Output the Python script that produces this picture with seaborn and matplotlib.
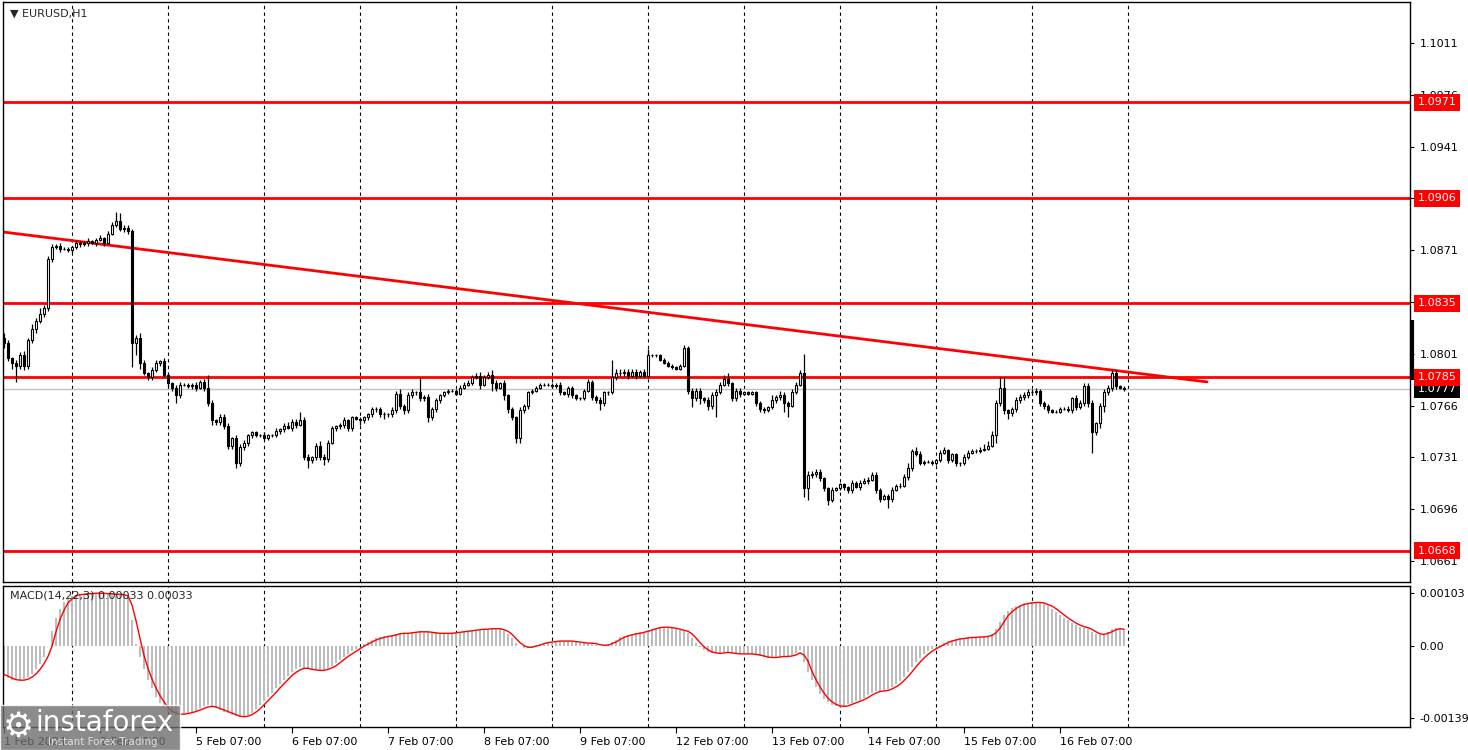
import matplotlib
matplotlib.use("Agg")
import matplotlib.pyplot as plt
import matplotlib.transforms as mtransforms
import numpy as np
import pandas as pd
import seaborn as sns

# ── Data ─────────────────────────────────────────────────────────────
date_labels = ["1 Feb 2024", "2 Feb 07:00", "5 Feb 07:00", "6 Feb 07:00",
               "7 Feb 07:00", "8 Feb 07:00", "9 Feb 07:00", "12 Feb 07:00",
               "13 Feb 07:00", "14 Feb 07:00", "15 Feb 07:00", "16 Feb 07:00"]

# EURUSD H1 closes, 1 Feb 07:00 .. 16 Feb 23:00, one row per trading day
close = [
    1.0808, 1.0798, 1.0795, 1.0793, 1.0800, 1.0793, 1.0810, 1.0818, 1.0823, 1.0828, 1.0832, 1.0865, 1.0873, 1.0874, 1.0872, 1.0872, 1.0871,
    1.0873, 1.0876, 1.0875, 1.0876, 1.0877, 1.0876, 1.0878, 1.0879, 1.0876, 1.0882, 1.0888, 1.0891, 1.0885, 1.0886, 1.0884, 1.0808, 1.0812, 1.0795, 1.0788, 1.0785, 1.0790, 1.0795, 1.0796, 1.0787,
    1.0781, 1.0778, 1.0773, 1.0780, 1.0780, 1.0779, 1.0780, 1.0778, 1.0782, 1.0778, 1.0768, 1.0756, 1.0755, 1.0758, 1.0752, 1.0739, 1.0744, 1.0727, 1.0738, 1.0741, 1.0746, 1.0748, 1.0746, 1.0746,
    1.0744, 1.0746, 1.0746, 1.0749, 1.0750, 1.0752, 1.0751, 1.0755, 1.0753, 1.0756, 1.0731, 1.0729, 1.0731, 1.0739, 1.0731, 1.0730, 1.0741, 1.0751, 1.0752, 1.0753, 1.0756, 1.0751, 1.0758, 1.0757,
    1.0756, 1.0758, 1.0760, 1.0764, 1.0764, 1.0760, 1.0760, 1.0760, 1.0763, 1.0774, 1.0766, 1.0763, 1.0773, 1.0775, 1.0775, 1.0771, 1.0772, 1.0758, 1.0764, 1.0770, 1.0773, 1.0775, 1.0776, 1.0776,
    1.0774, 1.0778, 1.0780, 1.0781, 1.0785, 1.0786, 1.0780, 1.0785, 1.0787, 1.0781, 1.0778, 1.0781, 1.0773, 1.0764, 1.0758, 1.0744, 1.0763, 1.0766, 1.0775, 1.0776, 1.0778, 1.0780, 1.0780, 1.0780,
    1.0779, 1.0780, 1.0775, 1.0774, 1.0778, 1.0773, 1.0771, 1.0771, 1.0776, 1.0782, 1.0772, 1.0770, 1.0768, 1.0775, 1.0775, 1.0785, 1.0788, 1.0788, 1.0789, 1.0786, 1.0789, 1.0786, 1.0789, 1.0786,
    1.0800, 1.0800, 1.0800, 1.0797, 1.0795, 1.0793, 1.0792, 1.0791, 1.0793, 1.0805, 1.0776, 1.0771, 1.0776, 1.0771, 1.0770, 1.0766, 1.0773, 1.0775, 1.0780, 1.0784, 1.0781, 1.0771, 1.0776, 1.0774,
    1.0775, 1.0774, 1.0775, 1.0768, 1.0764, 1.0763, 1.0765, 1.0770, 1.0772, 1.0773, 1.0768, 1.0766, 1.0775, 1.0780, 1.0788, 1.0710, 1.0719, 1.0720, 1.0721, 1.0717, 1.0710, 1.0702, 1.0709, 1.0710,
    1.0713, 1.0711, 1.0709, 1.0714, 1.0711, 1.0714, 1.0715, 1.0716, 1.0719, 1.0709, 1.0703, 1.0705, 1.0703, 1.0709, 1.0712, 1.0712, 1.0718, 1.0724, 1.0735, 1.0733, 1.0727, 1.0728, 1.0728, 1.0727,
    1.0729, 1.0734, 1.0736, 1.0729, 1.0733, 1.0727, 1.0727, 1.0731, 1.0734, 1.0735, 1.0735, 1.0736, 1.0737, 1.0739, 1.0746, 1.0768, 1.0778, 1.0763, 1.0761, 1.0764, 1.0770, 1.0772, 1.0773, 1.0775,
    1.0775, 1.0776, 1.0768, 1.0766, 1.0763, 1.0762, 1.0762, 1.0764, 1.0764, 1.0763, 1.0771, 1.0765, 1.0768, 1.0779, 1.0768, 1.0748, 1.0754, 1.0766, 1.0775, 1.0778, 1.0788, 1.0779, 1.0778, 1.0777,
]
first_open = 1.0812

# wick lengths beyond the body, in pips
upper_wick = [
    3, 2, 1, 2, 2, 3, 2, 3, 2, 4, 2, 2, 2, 1, 2, 1, 1,
    1, 2, 1, 1, 2, 1, 1, 2, 1, 2, 2, 6, 5, 2, 2, 1, 2, 3, 2, 1, 2, 2, 1, 2,
    2, 1, 2, 2, 1, 1, 1, 2, 1, 2, 9, 2, 1, 2, 2, 2, 1, 2, 2, 2, 1, 1, 1, 1,
    2, 1, 1, 2, 1, 2, 3, 2, 2, 6, 2, 2, 1, 2, 3, 2, 2, 1, 1, 1, 2, 1, 1, 1,
    1, 1, 1, 1, 1, 1, 2, 1, 2, 2, 3, 1, 2, 2, 1, 10, 1, 2, 1, 1, 1, 1, 1, 1,
    1, 2, 2, 2, 2, 2, 3, 2, 2, 3, 2, 1, 2, 1, 1, 1, 2, 1, 1, 1, 1, 1, 1, 1,
    1, 1, 2, 1, 1, 1, 1, 1, 1, 2, 1, 1, 2, 1, 1, 12, 3, 3, 2, 2, 2, 2, 1, 2,
    4, 1, 1, 1, 1, 1, 1, 1, 1, 2, 1, 2, 2, 2, 1, 2, 2, 2, 2, 3, 4, 1, 2, 2,
    1, 1, 1, 1, 1, 1, 1, 3, 1, 3, 2, 1, 2, 2, 2, 13, 3, 2, 2, 2, 1, 1, 2, 1,
    1, 1, 1, 2, 1, 2, 2, 2, 2, 2, 1, 1, 1, 2, 1, 2, 2, 3, 2, 3, 2, 1, 1, 1,
    1, 2, 2, 1, 1, 1, 1, 2, 2, 2, 2, 2, 3, 3, 3, 2, 7, 7, 1, 1, 2, 2, 2, 2,
    2, 2, 1, 1, 1, 1, 1, 1, 1, 2, 1, 2, 2, 2, 2, 2, 1, 2, 2, 2, 2, 2, 1, 1,
]
lower_wick = [
    3, 2, 4, 11, 2, 3, 2, 2, 3, 1, 2, 2, 2, 1, 2, 1, 1,
    2, 1, 2, 1, 2, 1, 2, 1, 2, 1, 1, 1, 1, 2, 2, 16, 8, 4, 1, 2, 2, 1, 2, 2,
    2, 2, 5, 2, 1, 1, 2, 2, 1, 2, 2, 3, 2, 2, 2, 2, 2, 3, 2, 2, 2, 2, 1, 1,
    1, 1, 1, 1, 2, 2, 1, 2, 2, 1, 2, 5, 2, 2, 2, 4, 2, 1, 2, 2, 2, 2, 2, 1,
    3, 2, 2, 2, 2, 2, 3, 2, 2, 2, 2, 3, 2, 2, 2, 2, 2, 3, 2, 2, 2, 1, 1, 1,
    1, 1, 1, 1, 1, 1, 3, 1, 1, 5, 2, 1, 3, 3, 2, 3, 3, 2, 2, 1, 1, 1, 1, 1,
    1, 1, 2, 1, 2, 2, 1, 1, 1, 1, 2, 2, 5, 2, 2, 1, 2, 2, 2, 2, 1, 2, 1, 1,
    1, 1, 1, 1, 1, 1, 1, 1, 1, 1, 2, 6, 2, 4, 2, 3, 2, 15, 1, 1, 2, 2, 2, 2,
    1, 1, 1, 2, 2, 2, 1, 1, 2, 2, 6, 8, 1, 1, 1, 6, 8, 2, 2, 2, 2, 3, 1, 1,
    1, 2, 2, 2, 1, 2, 1, 2, 1, 2, 2, 1, 6, 2, 1, 2, 1, 2, 2, 1, 1, 1, 1, 1,
    1, 1, 1, 2, 1, 2, 2, 1, 1, 1, 1, 1, 1, 1, 1, 5, 2, 3, 4, 2, 2, 2, 2, 2,
    1, 2, 2, 2, 2, 1, 1, 1, 1, 1, 2, 2, 1, 2, 3, 14, 2, 3, 4, 2, 2, 2, 1, 1,
]

# MACD(14,22,3) histogram and signal, in units of 1e-5
macd_main = [
    -58, -62, -65, -66, -66, -64, -60, -54, -45, -34, -20, 0, 30, 55, 72, 85, 93,
    98, 100, 101, 102, 102, 103, 103, 103, 102, 102, 101, 101, 100, 98, 95, 50, 5, -20, -45, -65, -82, -98, -110, -120,
    -127, -131, -133, -133, -131, -129, -127, -125, -121, -117, -115, -117, -120, -124, -127, -130, -133, -136, -138, -137, -134, -129, -122, -115,
    -107, -99, -91, -82, -73, -65, -57, -50, -45, -41, -42, -45, -47, -47, -47, -46, -43, -38, -32, -26, -20, -15, -10, -5,
    0, 4, 8, 12, 15, 17, 19, 20, 22, 24, 25, 25, 26, 27, 28, 29, 29, 27, 26, 25, 25, 25, 25, 26,
    27, 28, 29, 30, 31, 32, 33, 33, 34, 34, 34, 33, 30, 24, 16, 6, 0, -3, -3, -1, 2, 5, 7, 8,
    9, 10, 10, 10, 10, 9, 8, 7, 6, 6, 5, 3, 1, 2, 4, 8, 13, 17, 20, 22, 24, 25, 27, 28,
    31, 34, 36, 37, 37, 36, 35, 33, 31, 30, 25, 16, 7, -2, -8, -12, -14, -14, -13, -12, -12, -14, -15, -15,
    -15, -15, -15, -17, -19, -21, -22, -22, -21, -20, -20, -20, -18, -14, -8, -30, -50, -66, -80, -92, -102, -109, -114, -117,
    -118, -116, -113, -110, -107, -104, -100, -95, -90, -88, -87, -86, -84, -80, -74, -67, -59, -50, -40, -31, -23, -16, -10, -5,
    -1, 3, 7, 10, 12, 14, 15, 16, 17, 17, 18, 18, 19, 20, 24, 34, 48, 60, 68, 74, 78, 81, 83, 84,
    85, 85, 84, 82, 78, 73, 67, 61, 55, 50, 45, 41, 38, 36, 34, 28, 23, 22, 24, 28, 33, 35, 34, 33,
]
macd_signal = [
    -55, -58, -62, -65, -66, -66, -64, -60, -54, -45, -34, -20, 0, 28, 52, 70, 84,
    92, 98, 100, 101, 102, 102, 103, 103, 103, 102, 102, 101, 101, 100, 98, 80, 50, 15, -18, -43, -64, -81, -96, -108,
    -119, -126, -130, -132, -132, -131, -129, -127, -124, -121, -118, -117, -118, -121, -124, -127, -130, -133, -136, -137, -136, -133, -128, -122,
    -114, -106, -98, -90, -81, -73, -65, -57, -51, -46, -43, -43, -45, -46, -47, -47, -45, -42, -38, -32, -26, -20, -15, -10,
    -5, 0, 4, 8, 12, 15, 17, 19, 20, 22, 24, 25, 25, 26, 27, 28, 28, 28, 27, 26, 25, 25, 25, 25,
    26, 27, 28, 29, 30, 31, 32, 33, 33, 34, 34, 34, 32, 29, 23, 15, 7, 1, -2, -2, 0, 2, 5, 7,
    8, 9, 10, 10, 10, 10, 9, 8, 7, 6, 6, 5, 3, 2, 2, 5, 8, 13, 17, 20, 22, 24, 25, 27,
    29, 31, 34, 36, 37, 37, 36, 35, 33, 31, 29, 24, 16, 7, -1, -7, -11, -13, -14, -13, -12, -13, -14, -15,
    -15, -15, -15, -16, -17, -19, -21, -22, -22, -21, -20, -20, -19, -17, -13, -17, -29, -49, -65, -79, -91, -101, -108, -113,
    -116, -117, -116, -113, -110, -107, -104, -100, -95, -91, -88, -87, -86, -83, -79, -74, -67, -59, -50, -40, -31, -23, -16, -10,
    -5, -1, 3, 7, 10, 12, 14, 15, 16, 17, 17, 18, 18, 19, 21, 26, 35, 47, 59, 67, 73, 78, 81, 83,
    84, 85, 85, 84, 81, 78, 73, 67, 61, 55, 50, 45, 41, 38, 36, 33, 28, 24, 23, 25, 28, 32, 34, 33,
]

levels = [1.0971, 1.0906, 1.0835, 1.0785, 1.0668]
trend_bars = [-0.25, 300.75]
trend_prices = [1.08833, 1.0782]
last_price = 1.0777
# 1.0906 and 1.0836 sit right under the level boxes, so only their ticks show
price_ticks = [1.0661, 1.0696, 1.0731, 1.0766, 1.0801, 1.0836, 1.0871,
               1.0906, 1.0941, 1.0976, 1.1011]
price_tick_labels = ["1.0661", "1.0696", "1.0731", "1.0766", "1.0801", "",
                     "1.0871", "", "1.0941", "1.0976", "1.1011"]
macd_ticks = [0.00103, 0.0, -0.00139]
macd_tick_labels = ["0.00103", "0.00", "-0.00139"]

# ── Build frame ──────────────────────────────────────────────────────
pip = 0.0001
df = pd.DataFrame({"close": close, "up": upper_wick, "dn": lower_wick,
                   "macd": np.array(macd_main) * 1e-5,
                   "signal": np.array(macd_signal) * 1e-5})
df["bar"] = np.arange(len(df))
df["open"] = [first_open] + close[:-1]
df["top"] = df[["open", "close"]].max(axis=1)
df["bot"] = df[["open", "close"]].min(axis=1)
df["high"] = df["top"] + df["up"] * pip
df["low"] = df["bot"] - df["dn"] * pip
bull = df["close"] >= df["open"]

sns.set_style("white")
plt.rcParams["font.family"] = ["DejaVu Sans"]
plt.rcParams["axes.edgecolor"] = "black"

W, H = 1468, 750
fig = plt.figure(figsize=(W / 100, H / 100), dpi=100)
ax = fig.add_axes([3 / W, 168 / H, 1407 / W, 580 / H])
ax2 = fig.add_axes([3 / W, 23 / H, 1407 / W, 141 / H])

xmin, xmax = -0.25, 351.5
day_edges = [17 + 24 * k for k in range(12)]
label_bars = [24 * k for k in range(12)]

# ── Price pane ───────────────────────────────────────────────────────
for e in day_edges:
    ax.axvline(e, color="black", lw=0.8, ls=(0, (3, 3)), zorder=1)

ax.axhline(last_price, color="#c0c0c0", lw=1, zorder=1.5)
for lv in levels:
    ax.axhline(lv, color="red", lw=2, zorder=2)
sns.lineplot(x=trend_bars, y=trend_prices, ax=ax, color="red", lw=2, zorder=2)

ax.vlines(df["bar"], df["low"], df["high"], color="black", lw=0.9, zorder=3)
ax.bar(df["bar"][bull], (df["top"] - df["bot"])[bull], bottom=df["bot"][bull],
       width=0.6, color="white", edgecolor="black", lw=0.8, zorder=4)
ax.bar(df["bar"][~bull], (df["top"] - df["bot"])[~bull], bottom=df["bot"][~bull],
       width=0.6, color="black", edgecolor="black", lw=0.8, zorder=4)

ax.set_xlim(xmin, xmax)
ax.set_ylim(1.06468, 1.10387)
ax.set_xticks([])
ax.yaxis.tick_right()
ax.set_yticks(price_ticks)
ax.set_yticklabels(price_tick_labels)
ax.tick_params(axis="y", direction="out", length=3, width=0.8, pad=4,
               labelsize=8, colors="black", right=True)
ax.set_xlabel("")
ax.set_ylabel("")
for s in ax.spines.values():
    s.set_linewidth(1)

tr = mtransforms.blended_transform_factory(ax.transAxes, ax.transData)
ax.text(1.0055, last_price, f"{last_price:.4f}", transform=tr, fontsize=8,
        color="white", va="center", ha="left", zorder=5, clip_on=False,
        bbox=dict(boxstyle="square,pad=0.3", fc="black", ec="none"))
for lv in levels:
    ax.text(1.0055, lv, f"{lv:.4f}", transform=tr, fontsize=8, color="white",
            va="center", ha="left", zorder=6, clip_on=False,
            bbox=dict(boxstyle="square,pad=0.3", fc="red", ec="none"))
ax.plot([1.0012, 1.0012], [1.0824, 1.0783], transform=tr, color="black",
        lw=3, clip_on=False, zorder=6, solid_capstyle="butt")

ax.text(7 / 1407, 1 - 12 / 580, "\u25BC EURUSD,H1", transform=ax.transAxes,
        fontsize=8, va="center", ha="left")

# ── MACD pane ────────────────────────────────────────────────────────
for e in day_edges:
    ax2.axvline(e, color="black", lw=0.8, ls=(0, (3, 3)), zorder=1)
ax2.bar(df["bar"], df["macd"], width=0.62, color="#bdbdbd", lw=0, zorder=2)
sns.lineplot(data=df, x="bar", y="signal", ax=ax2, color="red", lw=1, zorder=3)

ax2.set_xlim(xmin, xmax)
ax2.set_ylim(-0.00157, 0.00117)
ax2.yaxis.tick_right()
ax2.set_yticks(macd_ticks)
ax2.set_yticklabels(macd_tick_labels)
ax2.set_xticks(label_bars)
ax2.set_xticklabels(date_labels, ha="left")
ax2.tick_params(axis="y", direction="out", length=3, width=0.8, pad=4,
                labelsize=8, colors="black", right=True)
ax2.tick_params(axis="x", direction="out", length=4, width=0.8, pad=3,
                labelsize=8, colors="black", bottom=True)
ax2.set_xlabel("")
ax2.set_ylabel("")
for s in ax2.spines.values():
    s.set_linewidth(1)
ax2.text(7 / 1407, 1 - 9 / 141, "MACD(14,22,3) 0.00033 0.00033",
         transform=ax2.transAxes, fontsize=8, va="center", ha="left")

# ── Watermark ────────────────────────────────────────────────────────
fig.patches.append(plt.Rectangle((0, 0), 180 / W, 45 / H, transform=fig.transFigure,
                                 facecolor="#6e6e6e", alpha=0.8, zorder=10))
fig.text(3 / W, 23 / H, "\u2699", fontsize=25, color="white", va="center",
         ha="left", zorder=11)
fig.text(35 / W, 27 / H, "instaforex", fontsize=20, color="white",
         va="center", ha="left", zorder=11)
fig.text(48 / W, 8 / H, "Instant Forex Trading", fontsize=7.5, color="#dddddd",
         va="center", ha="left", zorder=11)

fig.savefig("out.png", dpi=100)
